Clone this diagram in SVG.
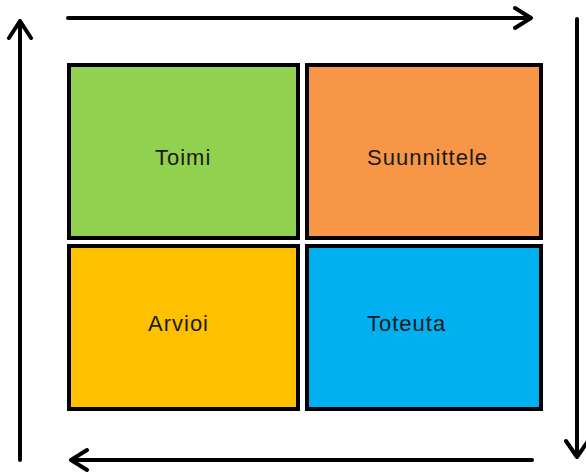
<svg xmlns="http://www.w3.org/2000/svg" width="586" height="473" viewBox="0 0 586 473">
<style>
.box{stroke:#000;stroke-width:4}
.lbl{font-family:"Liberation Sans",Arial,sans-serif;font-size:22px;letter-spacing:1px;fill:#1a1a1a}
.ln{stroke:#000;stroke-width:4;fill:none;stroke-linecap:round;stroke-linejoin:round}
</style>
<rect width="586" height="473" fill="#fff"/>
<g id="connectors">
<path class="ln" d="M20,460 V21 M9,38 L20,21 L31,38"/>
<path class="ln" d="M68,18 H531 M515,8 L531,18 L515,28"/>
<path class="ln" d="M577,19 V457 M566,441 L577,457 L588,441"/>
<path class="ln" d="M532,460 H71 M87,450 L71,460 L87,470"/>
</g>
<g id="toimi"><rect class="box" x="69" y="65" width="229" height="173" fill="#92D050"/><text class="lbl" x="155" y="165">Toimi</text></g>
<g id="suunnittele"><rect class="box" x="307" y="65" width="234" height="173" fill="#F79646"/><text class="lbl" x="367" y="165">Suunnittele</text></g>
<g id="arvioi"><rect class="box" x="69" y="246" width="229" height="163" fill="#FFC000"/><text class="lbl" x="148" y="331">Arvioi</text></g>
<g id="toteuta"><rect class="box" x="307" y="246" width="234" height="163" fill="#00B0F0"/><text class="lbl" x="367" y="331">Toteuta</text></g>
</svg>
